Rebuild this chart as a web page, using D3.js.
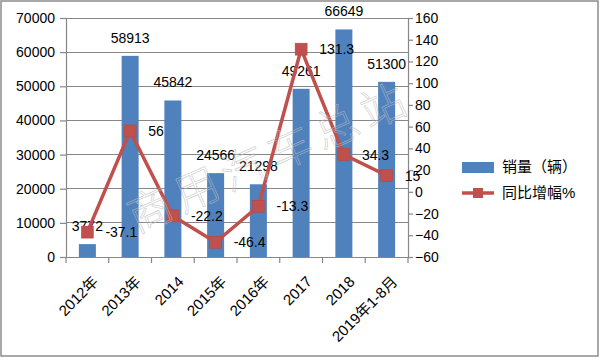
<!DOCTYPE html>
<html><head><meta charset="utf-8">
<script src="https://cdn.jsdelivr.net/npm/d3@7"></script>
<style>body{margin:0;background:#fff}svg{display:block}text{font-family:"Liberation Sans","Noto Sans CJK SC",sans-serif}</style>
</head><body><svg id="c" width="600" height="360"></svg>
<script>
const categories = ["2012年","2013年","2014","2015年","2016年","2017","2018","2019年1-8月"];
const sales = [3772,58913,45842,24566,21298,49261,66649,51300];
const growth = [-37.1,56,-22.2,-46.4,-13.3,131.3,34.3,15];
const leftTicks = [0,10000,20000,30000,40000,50000,60000,70000];
const rightTicks = [-60,-40,-20,0,20,40,60,80,100,120,140,160];
const legendLabels = ["销量（辆）","同比增幅%"];
const watermark = "商用汽车总站";

const svg = d3.select("#c");
const blue = "#4F81BD", red = "#C0504D", grid = "#878787";
const L = 66, R = 408, T = 18, B = 257;

svg.append("rect").attr("x",1).attr("y",1).attr("width",597).attr("height",355)
  .attr("fill","#fff").attr("stroke","#8c8c8c").attr("stroke-width",1.5);

const x = d3.scaleBand().domain(categories).range([L,R]);
const yL = d3.scaleLinear().domain([0,70000]).range([B,T]);
const yR = d3.scaleLinear().domain([-60,160]).range([B,T]);

// gridlines
svg.append("g").selectAll("line").data(leftTicks.slice(1)).join("line")
  .attr("x1",L).attr("x2",R).attr("y1",d=>yL(d)).attr("y2",d=>yL(d))
  .attr("stroke",grid).attr("stroke-width",1).attr("shape-rendering","crispEdges");

// axes
const ax = svg.append("g").attr("transform",`translate(${L},0)`)
  .call(d3.axisLeft(yL).tickValues(leftTicks).tickSize(6).tickPadding(5).tickFormat(d3.format("d")));
const axR = svg.append("g").attr("transform",`translate(${R},0)`)
  .call(d3.axisRight(yR).tickValues(rightTicks).tickSize(5).tickPadding(2).tickFormat(d3.format("d")));
const axB = svg.append("g").attr("transform",`translate(0,${B})`)
  .call(d3.axisBottom(x).tickSize(0).tickFormat(""));
[ax,axR,axB].forEach(g=>{
  g.select(".domain").attr("stroke",grid).attr("stroke-width",1.2);
  g.selectAll(".tick line").attr("stroke",grid).attr("stroke-width",1.2);
  g.selectAll("text").attr("font-size",14).attr("fill","#000").attr("font-family",'"Liberation Sans",sans-serif');
});
// category boundary ticks
const bounds = categories.map(c=>x(c)).concat([R]);
svg.append("g").selectAll("line").data(bounds).join("line")
  .attr("x1",d=>d).attr("x2",d=>d).attr("y1",B).attr("y2",B+6)
  .attr("stroke",grid).attr("stroke-width",1.2);

// x labels
svg.append("g").selectAll("text").data(categories).join("text")
  .attr("transform",d=>`translate(${x(d)+x.bandwidth()/2+8},${B+22}) rotate(-45)`)
  .attr("text-anchor","end").attr("dy","0.35em").attr("font-size",15).attr("fill","#000").text(d=>d);

// bars
const bw = 17;
svg.append("g").selectAll("rect").data(sales).join("rect")
  .attr("x",(d,i)=>x(categories[i])+x.bandwidth()/2-bw/2)
  .attr("y",d=>yL(d)).attr("width",bw).attr("height",d=>B-yL(d)).attr("fill",blue);

// bar labels
svg.append("g").selectAll("text").data(sales).join("text")
  .attr("x",(d,i)=>x(categories[i])+x.bandwidth()/2).attr("y",d=>yL(d)-13)
  .attr("text-anchor","middle").attr("font-size",14).attr("fill","#000").text(d=>d);

// line
const cx = (i)=>x(categories[i])+x.bandwidth()/2;
svg.append("path").datum(growth)
  .attr("d",d3.line().x((d,i)=>cx(i)).y(d=>yR(d)))
  .attr("fill","none").attr("stroke",red).attr("stroke-width",3.5).attr("stroke-linejoin","round");
svg.append("g").selectAll("rect").data(growth).join("rect")
  .attr("x",(d,i)=>cx(i)-6).attr("y",d=>yR(d)-6).attr("width",12).attr("height",12)
  .attr("fill",red).attr("stroke","#b8433f").attr("stroke-width",0.5);
svg.append("g").selectAll("text").data(growth).join("text")
  .attr("x",(d,i)=>cx(i)+18).attr("y",d=>yR(d)).attr("dy","0.36em")
  .attr("font-size",14).attr("fill","#000").text(d=>d);

// watermark
svg.append("text").attr("transform","translate(150,210) rotate(-24)")
  .attr("x",-22).attr("y",16)
  .attr("font-size",44).attr("letter-spacing",7)
  .attr("font-family",'"Noto Sans CJK SC",sans-serif').attr("font-weight",200)
  .attr("fill","none").attr("stroke","#bdbdbd").attr("stroke-width",0.7).attr("opacity",0.7)
  .text(watermark);

// legend
const lg = svg.append("g");
lg.append("rect").attr("x",462).attr("y",162).attr("width",32).attr("height",11).attr("fill",blue);
lg.append("line").attr("x1",462).attr("x2",494).attr("y1",193).attr("y2",193).attr("stroke",red).attr("stroke-width",3.5);
lg.append("rect").attr("x",473).attr("y",188).attr("width",10).attr("height",10).attr("fill",red);
lg.selectAll("text.l").data(legendLabels).join("text")
  .attr("x",502).attr("y",(d,i)=>167+i*26).attr("dy","0.36em")
  .attr("font-size",15).attr("fill","#000").attr("font-family",'"Noto Sans CJK SC",sans-serif').text(d=>d);
</script></body></html>
